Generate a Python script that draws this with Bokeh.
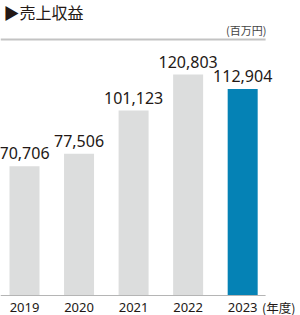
from bokeh.plotting import figure
from bokeh.models import ColumnDataSource, LabelSet, Label, Range1d
from bokeh.core.properties import value
from bokeh.embed import file_html
from bokeh.resources import INLINE

years = ["2019", "2020", "2021", "2022", "2023"]
revenue = [70706, 77506, 101123, 120803, 112904]
colors = ["#dcdddd", "#dcdddd", "#dcdddd", "#dcdddd", "#0582b5"]
title_text = "▶売上収益"
unit_text = "(百万円)"
year_unit_text = "(年度)"
scale_top = 140000

idx = list(range(len(years)))
src = ColumnDataSource(dict(
    x=idx, y=revenue, color=colors, year=years,
    label=[f"{v:,}" for v in revenue],
    base=[0] * len(years),
))

px = scale_top / 256.0  # data units per pixel
x_start, x_end = -0.44, 5.06
p = figure(width=300, height=315, output_backend="svg", toolbar_location=None,
           x_range=Range1d(x_start, x_end), y_range=Range1d(-20 * px, 295 * px),
           x_axis_location=None, y_axis_location=None,
           min_border_left=0, min_border_right=0, min_border_top=0, min_border_bottom=0)
p.outline_line_color = None
p.grid.visible = False
p.background_fill_color = "white"
p.border_fill_color = "white"

p.vbar(x="x", top="y", width=0.55, color="color", source=src, line_color=None)

# baseline and top rule
p.segment(x0=[x_start], x1=[4.42], y0=[0], y1=[0], line_color="#b5b5b5", line_width=1)
p.segment(x0=[x_start], x1=[4.42], y0=[scale_top], y1=[scale_top], line_color="#c3c3c3", line_width=2)

p.add_layout(LabelSet(x="x", y="y", text="label", source=src, text_align="center",
                      text_baseline="alphabetic", y_offset=7, text_font_size="16px",
                      text_font=value("Noto Sans"), text_color="#231815"))

p.add_layout(LabelSet(x="x", y="base", text="year", source=src, text_align="center",
                      text_baseline="middle", y_offset=-12, text_font_size="13px",
                      text_font=value("Noto Sans"), text_color="#231815"))

p.add_layout(Label(x=4.66, y=0, y_offset=-12, text=year_unit_text, text_align="center",
                   text_baseline="middle", text_font="Noto Sans CJK JP", text_font_size="12.5px",
                   text_color="#231815"))

p.add_layout(Label(x=3, y=304, x_units="screen", y_units="screen", text=title_text,
                   text_font="Noto Sans CJK JP", text_font_size="16px", text_color="#231815",
                   text_baseline="middle"))
p.add_layout(Label(x=266, y=286, x_units="screen", y_units="screen", text=unit_text,
                   text_font="Noto Sans CJK JP", text_font_size="11px", text_color="#444444",
                   text_align="right", text_baseline="middle"))

open("out.html", "w").write(file_html(p, INLINE))
